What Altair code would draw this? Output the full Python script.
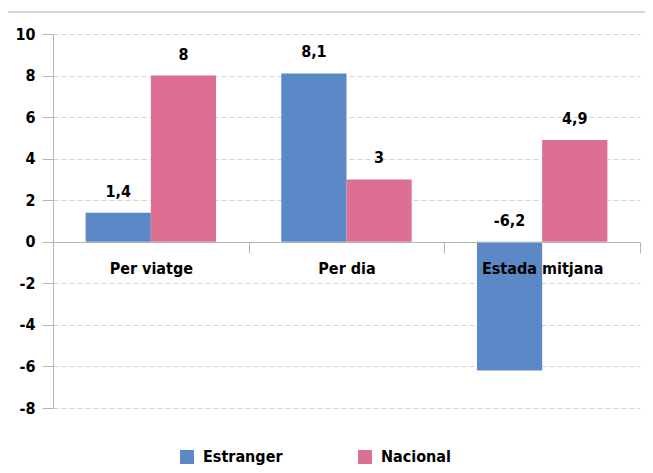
import altair as alt
import pandas as pd

categories = ["Per viatge", "Per dia", "Estada mitjana"]
series = ["Estranger", "Nacional"]
estranger = [1.4, 8.1, -6.2]
nacional = [8, 3, 4.9]
y_ticks = [-8, -6, -4, -2, 0, 2, 4, 6, 8, 10]
colors = ["#5b88c7", "#dd6f93"]

rows = []
for c, e, n in zip(categories, estranger, nacional):
    rows.append({"cat": c, "serie": series[0], "value": e})
    rows.append({"cat": c, "serie": series[1], "value": n})
df = pd.DataFrame(rows)
df["label"] = df["value"].map(lambda v: f"{v:g}".replace(".", ","))

FONT = "'DejaVu Sans Condensed', 'Liberation Sans Narrow', 'Roboto', sans-serif"
GREY = "#b4b4b4"
FS = 16

x = alt.X(
    "cat:N", sort=categories,
    scale=alt.Scale(paddingInner=0, paddingOuter=0),
    axis=alt.Axis(title=None, labelAngle=0, tickBand="extent", offset=-166,
                  domainColor=GREY, tickColor=GREY, tickSize=11, zindex=1,
                  labelFontSize=FS, labelFont=FONT, labelFontWeight="bold",
                  labelColor="black", labelPadding=7, grid=False,
                  labelOverlap=False),
)
xo = alt.XOffset("serie:N", sort=series,
                 scale=alt.Scale(paddingInner=0, paddingOuter=0.5))
y = alt.Y(
    "value:Q",
    scale=alt.Scale(domain=[-8, 10], nice=False, zero=False),
    axis=alt.Axis(values=y_ticks, title=None, domainColor=GREY, tickColor=GREY,
                  tickSize=11, labelFontSize=FS, labelFont=FONT,
                  labelFontWeight="bold", labelColor="black", labelPadding=7,
                  gridColor="#d2d2d2", gridDash=[5, 3],
                  labelExpr="'' + datum.value"),
)
color = alt.Color(
    "serie:N", sort=series,
    scale=alt.Scale(domain=series, range=colors),
    legend=alt.Legend(title=None, orient="none", legendX=126, legendY=415,
                      direction="horizontal", symbolType="square",
                      symbolSize=196, symbolStrokeWidth=0,
                      labelFontSize=FS, labelFont=FONT, labelFontWeight="bold",
                      labelColor="black", columnPadding=74, labelOffset=8),
)

base = alt.Chart(df)
bars = base.mark_bar().encode(x=x, xOffset=xo, y=y, color=color)
texts = base.transform_calculate(
    ypos="max(datum.value, 0)"
).mark_text(font=FONT, fontWeight="bold", fontSize=FS, dy=-21,
            baseline="middle", color="black").encode(
    x=alt.X("cat:N", sort=categories), xOffset=xo,
    y=alt.Y("ypos:Q"), text="label:N",
)
frame = alt.Chart(pd.DataFrame({"a": [0]})).mark_rect(
    fill=None, stroke="#c8c8c8", strokeWidth=1.5
).encode(x=alt.value(-46), x2=alt.value(700), y=alt.value(-22), y2=alt.value(500))

chart = alt.layer(bars, texts, frame).properties(
    width=587, height=374,
    autosize=alt.AutoSizeParams(type="none"),
    padding={"left": 45, "top": 26, "right": 5, "bottom": 57},
).configure_view(stroke=None)

chart.save("out.html", embed_options={"renderer": "svg", "actions": False})
